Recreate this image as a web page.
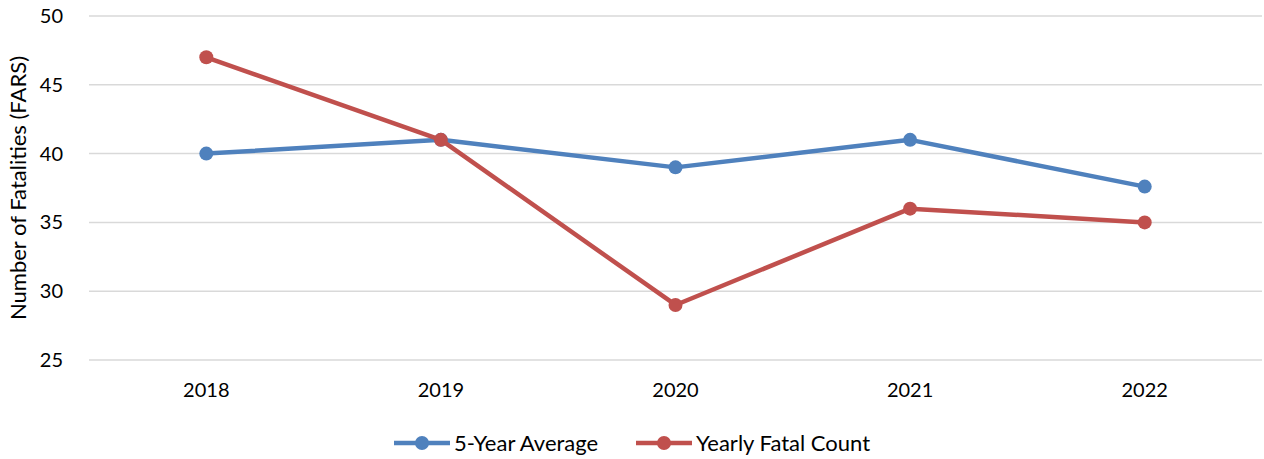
<!DOCTYPE html>
<html>
<head>
<meta charset="utf-8">
<script src="https://cdn.jsdelivr.net/npm/d3@7"></script>
<style>
  body { margin: 0; background: #fff; }
  text { font-family: Lato, "Open Sans", sans-serif; fill: #000; }
</style>
</head>
<body>
<div id="chart"></div>
<script>
// data
var years = ['2018', '2019', '2020', '2021', '2022']
var fiveYearAvg = [40, 41, 39, 41, 37.6]
var yearlyCount = [47, 41, 29, 36, 35]
var yTicks = [25, 30, 35, 40, 45, 50]
var seriesNames = ['5-Year Average', 'Yearly Fatal Count']
var colors = ['#4F81BD', '#C0504D']

var width = 1264
var height = 459
var margin = { top: 16, bottom: 99, left: 89, right: 2 }

var svg = d3
  .select('#chart')
  .append('svg')
  .attr('width', width)
  .attr('height', height)

var x = d3
  .scaleBand()
  .domain(years)
  .range([margin.left, width - margin.right])

var y = d3
  .scaleLinear()
  .domain([25, 50])
  .range([height - margin.bottom, margin.top])

// gridlines
svg
  .append('g')
  .selectAll('line')
  .data(yTicks)
  .join('line')
  .attr('x1', margin.left)
  .attr('x2', width - margin.right)
  .attr('y1', d => y(d))
  .attr('y2', d => y(d))
  .attr('stroke', '#d9d9d9')
  .attr('stroke-width', 1.5)

// y tick labels
svg
  .append('g')
  .selectAll('text')
  .data(yTicks)
  .join('text')
  .attr('x', 63)
  .attr('y', d => y(d))
  .attr('dy', '0.35em')
  .attr('text-anchor', 'end')
  .attr('font-size', 20)
  .text(d => d)

// x tick labels
svg
  .append('g')
  .selectAll('text')
  .data(years)
  .join('text')
  .attr('x', d => x(d) + x.bandwidth() / 2)
  .attr('y', 397)
  .attr('text-anchor', 'middle')
  .attr('font-size', 20)
  .text(d => d)

// y axis title
svg
  .append('text')
  .attr('transform', 'translate(26,' + (margin.top + height - margin.bottom) / 2 + ') rotate(-90)')
  .attr('text-anchor', 'middle')
  .attr('font-size', 22)
  .text('Number of Fatalities (FARS)')

var line = d3
  .line()
  .x((d, i) => x(years[i]) + x.bandwidth() / 2)
  .y(d => y(d))

var series = [fiveYearAvg, yearlyCount]

series.forEach((vals, s) => {
  var g = svg.append('g')
  g.append('path')
    .attr('d', line(vals))
    .attr('fill', 'none')
    .attr('stroke', colors[s])
    .attr('stroke-width', 4.5)
    .attr('stroke-linejoin', 'round')
  g.selectAll('circle')
    .data(vals)
    .join('circle')
    .attr('cx', (d, i) => x(years[i]) + x.bandwidth() / 2)
    .attr('cy', d => y(d))
    .attr('r', 7)
    .attr('fill', colors[s])
})

// legend
var legendX = [394, 636]
seriesNames.forEach((name, s) => {
  var lg = svg.append('g').attr('transform', 'translate(' + legendX[s] + ',443)')
  lg.append('line')
    .attr('x1', 0)
    .attr('x2', 56)
    .attr('stroke', colors[s])
    .attr('stroke-width', 4.5)
  lg.append('circle')
    .attr('cx', 28)
    .attr('r', 7)
    .attr('fill', colors[s])
  lg.append('text')
    .attr('x', 60)
    .attr('dy', '0.35em')
    .attr('font-size', 22)
    .text(name)
})
</script>
</body>
</html>
